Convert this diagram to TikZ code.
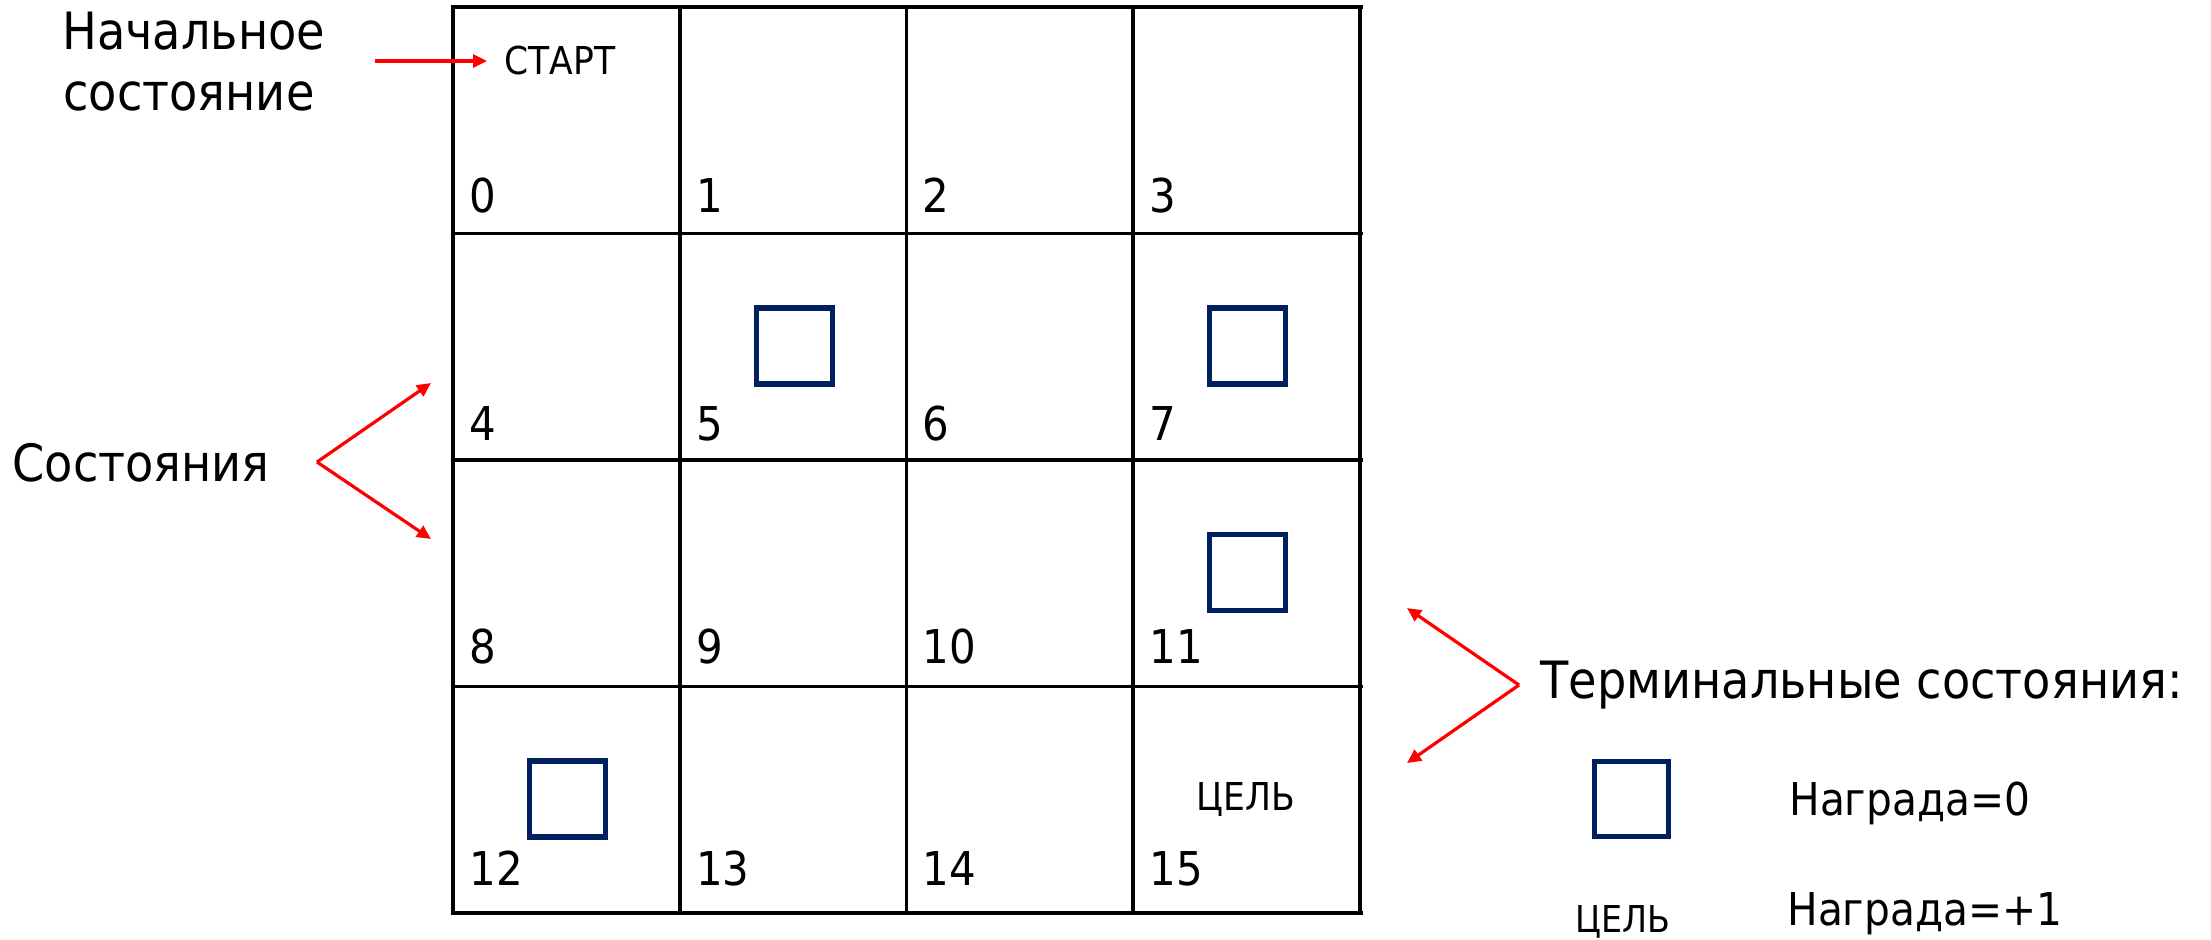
\documentclass[tikz,border=0pt]{standalone}
\usepackage{fontspec}
\setmainfont{DejaVu Sans}[FakeStretch=0.9]
\usetikzlibrary{arrows.meta}
\definecolor{navy}{HTML}{002060}
\definecolor{arrred}{HTML}{FF0000}
\begin{document}
\begin{tikzpicture}[x=0.5pt,y=-0.5pt,
  gridline/.style={line width=1.9pt,black,line cap=rect},
  termbox/.style={draw=navy,line width=2.6pt},
  redarrow/.style={draw=arrred,line width=1.6pt,-{Triangle[length=7pt,width=6.5pt]}},
  num/.style={anchor=base west,inner sep=0pt,font=\fontsize{23.3pt}{28pt}\selectfont},
  big/.style={anchor=base west,inner sep=0pt,font=\fontsize{25.7pt}{30pt}\selectfont},
  small/.style={anchor=base west,inner sep=0pt,font=\fontsize{19.2pt}{23pt}\selectfont},
  reward/.style={anchor=base west,inner sep=0pt,font=\fontsize{22.6pt}{27pt}\selectfont}]
\useasboundingbox (0,0) rectangle (2211,939);
\fill[white] (0,0) rectangle (2211,939);
% grid
\foreach \i in {0,...,4} {
  \draw[gridline] ({453+226.75*\i},7) -- ({453+226.75*\i},913);
  \draw[gridline] (453,{7+226.5*\i}) -- (1361,{7+226.5*\i});
}
% cell numbers
\foreach \r/\b in {0/212,1/440,2/663,3/885} {
  \foreach \c in {0,...,3} {
    \pgfmathtruncatemacro{\n}{4*\r+\c}
    \node[num] (n\n) at ({453+226.75*\c+16},\b) {\n};
  }
}
% terminal squares
\foreach \c/\r [count=\k] in {1/1,3/1,3/2,0/3} {
  \draw[termbox] ({453+226.75*\c+76.5},{7+226.5*\r+74.5}) rectangle ++(76,76);
}
% start / goal
\node[small] (start) at (504,74) {СТАРТ};
\node[small] (goal) at (1196,810) {ЦЕЛЬ};
% left labels
\node[big] (init1) at (62,49) {Начальное};
\node[big] (init2) at (63,110) {состояние};
\coordinate (sa) at (375,61);
\coordinate (sb) at (487,61);
\draw[redarrow] (sa) -- (sb);
\node[big] (states) at (12,481) {Состояния};
\coordinate (apex1) at (317,462);
\coordinate (t1) at (431,383);
\coordinate (t2) at (431,539);
\draw[redarrow] (apex1) -- (t1);
\draw[redarrow] (apex1) -- (t2);
% right labels
\node[big] (term) at (1540,698) {Терминальные состояния:};
\coordinate (apex2) at (1519,685);
\coordinate (t3) at (1407,608);
\coordinate (t4) at (1407,763);
\draw[redarrow] (apex2) -- (t3);
\draw[redarrow] (apex2) -- (t4);
\draw[termbox] (1594.5,761.5) rectangle (1668.5,836.5);
\node[reward] (r0) at (1789,815) {Награда=0};
\node[small,font=\fontsize{18.5pt}{22pt}\selectfont] (goal2) at (1575,932) {ЦЕЛЬ};
\node[reward] (r1) at (1787,925) {Награда=+1};
\end{tikzpicture}
\end{document}
